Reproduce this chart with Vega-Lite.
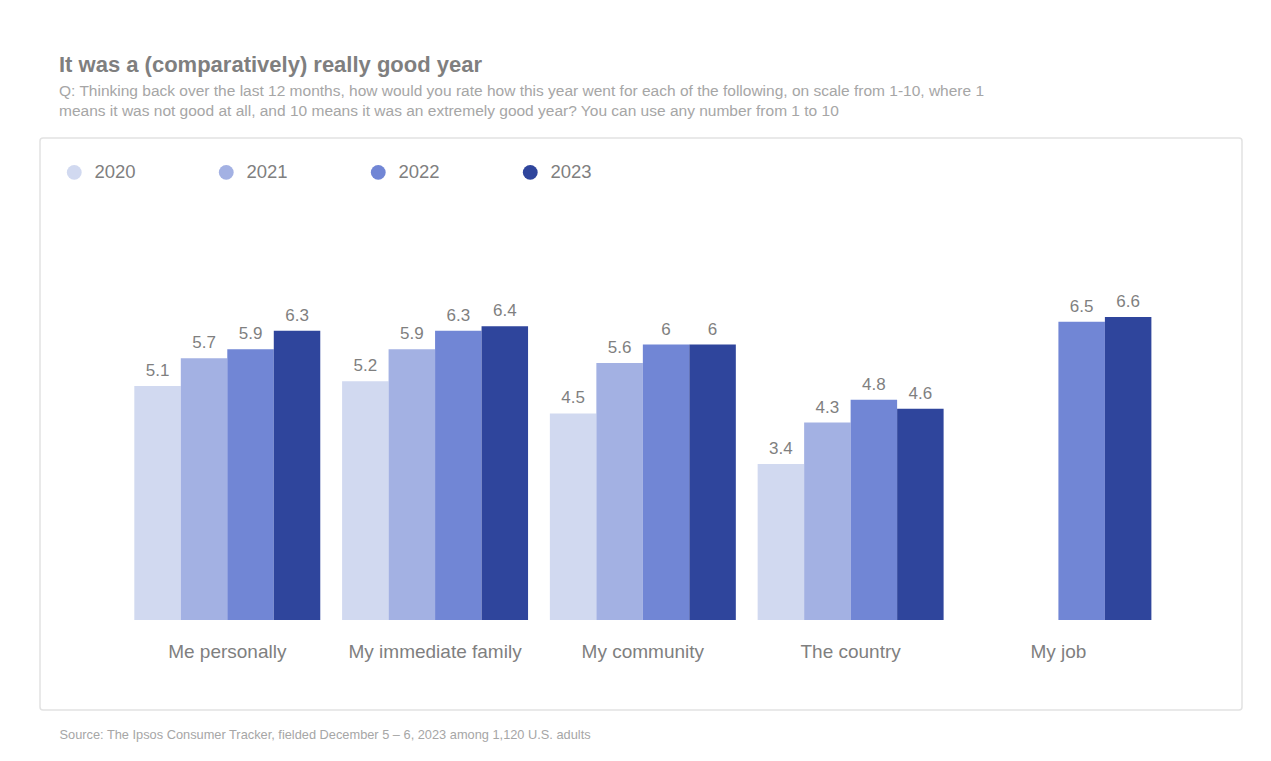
{
  "$schema": "https://vega.github.io/schema/vega-lite/v6.json",
  "width": 1202,
  "height": 572,
  "autosize": "none",
  "padding": {"left": 40, "top": 138, "right": 29, "bottom": 51},
  "background": "white",
  "config": {
    "font": "Liberation Sans",
    "view": {"fill": "white", "stroke": "#e2e2e2", "strokeWidth": 1.5, "cornerRadius": 3}
  },
  "title": {
    "text": "It was a (comparatively) really good year",
    "subtitle": ["Q: Thinking back over the last 12 months, how would you rate how this year went for each of the following, on scale from 1-10, where 1", "means it was not good at all, and 10 means it was an extremely good year? You can use any number from 1 to 10"],
    "anchor": "start",
    "frame": "group",
    "dx": 19,
    "offset": 18,
    "fontSize": 22,
    "fontWeight": "bold",
    "color": "#7f7f7f",
    "subtitleFontSize": 15.5,
    "subtitleColor": "#a6a6a6",
    "subtitlePadding": 7,
    "subtitleLineHeight": 20
  },
  "data": {
    "values": [
      {"category": "Me personally", "year": "2020", "value": 5.1},
      {"category": "Me personally", "year": "2021", "value": 5.7},
      {"category": "Me personally", "year": "2022", "value": 5.9},
      {"category": "Me personally", "year": "2023", "value": 6.3},
      {"category": "My immediate family", "year": "2020", "value": 5.2},
      {"category": "My immediate family", "year": "2021", "value": 5.9},
      {"category": "My immediate family", "year": "2022", "value": 6.3},
      {"category": "My immediate family", "year": "2023", "value": 6.4},
      {"category": "My community", "year": "2020", "value": 4.5},
      {"category": "My community", "year": "2021", "value": 5.6},
      {"category": "My community", "year": "2022", "value": 6},
      {"category": "My community", "year": "2023", "value": 6},
      {"category": "The country", "year": "2020", "value": 3.4},
      {"category": "The country", "year": "2021", "value": 4.3},
      {"category": "The country", "year": "2022", "value": 4.8},
      {"category": "The country", "year": "2023", "value": 4.6},
      {"category": "My job", "year": "2022", "value": 6.5},
      {"category": "My job", "year": "2023", "value": 6.6}
    ]
  },
  "encoding": {
    "x": {
      "field": "category",
      "type": "nominal",
      "sort": ["Me personally", "My immediate family", "My community", "The country", "My job"],
      "scale": {"paddingInner": 0.105, "paddingOuter": 0.445, "align": 0.51},
      "axis": {
        "title": "Source: The Ipsos Consumer Tracker, fielded December 5 – 6, 2023 among 1,120 U.S. adults",
        "titleX": 19,
        "titleY": 114,
        "titleAlign": "left",
        "titleAnchor": "start",
        "titleBaseline": "middle",
        "titleFontSize": 12.8,
        "titleFontWeight": "normal",
        "titleColor": "#a6a6a6",
        "offset": -90,
        "ticks": false,
        "domain": false,
        "labelAngle": 0,
        "labelFontSize": 19,
        "labelColor": "#7f7f7f",
        "labelPadding": 22
      }
    },
    "xOffset": {
      "field": "year",
      "type": "nominal",
      "scale": {"domain": ["2020", "2021", "2022", "2023"], "paddingInner": 0, "paddingOuter": 0}
    },
    "y": {
      "field": "value",
      "type": "quantitative",
      "scale": {"domain": [-1.96, 10.5], "nice": false, "zero": false},
      "axis": null
    }
  },
  "layer": [
    {
      "mark": {"type": "bar"},
      "encoding": {
        "color": {
          "field": "year",
          "type": "nominal",
          "scale": {"domain": ["2020", "2021", "2022", "2023"], "range": ["#d1d9f0", "#a3b1e3", "#7186d5", "#2f459c"]},
          "legend": {
            "title": null,
            "orient": "none",
            "legendX": 25,
            "legendY": 25,
            "direction": "horizontal",
            "symbolType": "circle",
            "symbolSize": 220,
            "symbolStrokeWidth": 0,
            "labelFontSize": 18.5,
            "labelColor": "#7f7f7f",
            "labelOffset": 11,
            "columnPadding": 81
          }
        }
      }
    },
    {
      "mark": {"type": "text", "baseline": "alphabetic", "dy": -10, "fontSize": 17, "color": "#7f7f7f"},
      "encoding": {
        "text": {"field": "value", "type": "quantitative"}
      }
    }
  ]
}
